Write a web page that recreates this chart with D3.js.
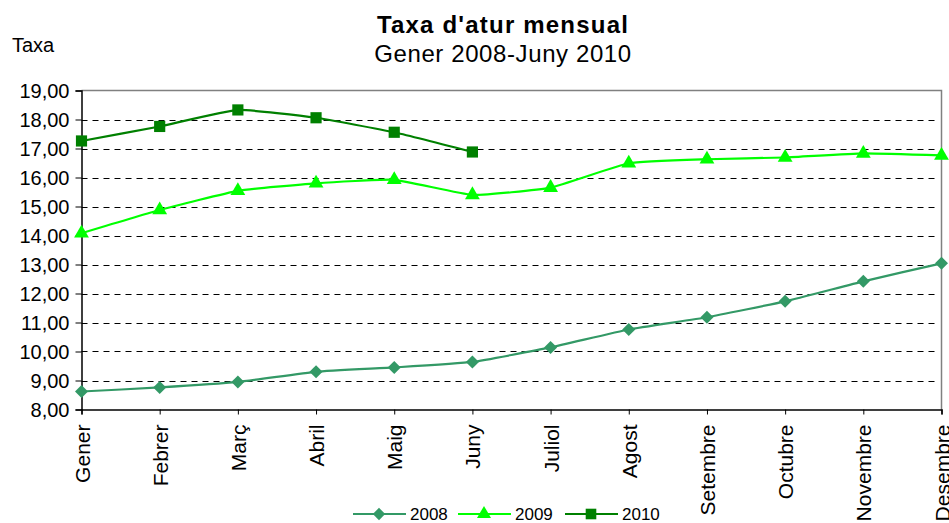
<!DOCTYPE html>
<html>
<head>
<meta charset="utf-8">
<script src="https://cdn.jsdelivr.net/npm/d3@7"></script>
<style>
    body { margin: 0; background: #fff; }
    text { font-family: "Liberation Sans", Arial, sans-serif; fill: #000; }
</style>
</head>
<body>
<div id="chart"></div>
<script>
// mesos i valors de la taxa d'atur
const months = ["Gener", "Febrer", "Març", "Abril", "Maig", "Juny", "Juliol",
    "Agost", "Setembre", "Octubre", "Novembre", "Desembre"];
const taxa2008 = [8.62, 8.76, 8.95, 9.30, 9.45, 9.64, 10.14, 10.76, 11.18, 11.73, 12.42, 13.04];
const taxa2009 = [14.08, 14.88, 15.54, 15.80, 15.92, 15.40, 15.65, 16.49, 16.63, 16.69, 16.83, 16.76];
const taxa2010 = [17.26, 17.76, 18.33, 18.06, 17.56, 16.88];
const yTicks = [8, 9, 10, 11, 12, 13, 14, 15, 16, 17, 18, 19];

function init() {
    const w = 949;
    const h = 523;
    const left = 81.5, right = 941.5, top = 90.5, bottom = 409.5;

    const svg = d3.select("#chart")
        .append("svg")
        .attr("width", w)
        .attr("height", h);

    const x = d3.scalePoint().domain(months).range([left, right]);
    const y = d3.scaleLinear().domain([8, 19]).range([bottom, top]);

    // titol
    svg.append("text")
        .attr("x", 503)
        .attr("y", 33)
        .attr("text-anchor", "middle")
        .style("font-size", "24px")
        .style("font-weight", "bold")
        .style("letter-spacing", "1.2px")
        .text("Taxa d'atur mensual");
    svg.append("text")
        .attr("x", 503)
        .attr("y", 62)
        .attr("text-anchor", "middle")
        .style("font-size", "24px")
        .style("letter-spacing", "0.6px")
        .text("Gener 2008-Juny 2010");
    svg.append("text")
        .attr("x", 12)
        .attr("y", 52)
        .style("font-size", "20px")
        .text("Taxa");

    // graella discontinua
    svg.append("g")
        .selectAll("line")
        .data(yTicks.filter(d => d > 8 && d < 19))
        .enter()
        .append("line")
        .attr("x1", left)
        .attr("x2", right - 6)
        .attr("y1", d => Math.round(y(d)) + 0.5)
        .attr("y2", d => Math.round(y(d)) + 0.5)
        .attr("stroke", "#000")
        .attr("stroke-width", 1)
        .attr("stroke-dasharray", "6,5");

    // marc superior i dret
    svg.append("path")
        .attr("d", `M${left},${top}H${right}V${bottom}`)
        .attr("fill", "none")
        .attr("stroke", "#808080")
        .attr("stroke-width", 1.5);

    // eix y
    const yAxis = d3.axisLeft(y)
        .tickValues(yTicks)
        .tickSize(6)
        .tickPadding(6)
        .tickFormat(d => d3.format(".2f")(d).replace(".", ","));
    const gy = svg.append("g")
        .attr("transform", `translate(${left},0)`)
        .call(yAxis);
    gy.select(".domain").attr("stroke", "#000").attr("stroke-width", 1.5);
    gy.selectAll("line").attr("stroke", "#000");
    gy.selectAll("text")
        .style("font-size", "20px")
        .attr("dy", "0.36em")
        .style("font-family", "'Liberation Sans', Arial, sans-serif");

    // eix x
    const xAxis = d3.axisBottom(x).tickSize(5).tickPadding(0);
    const gx = svg.append("g")
        .attr("transform", `translate(0,${bottom})`)
        .call(xAxis);
    gx.select(".domain").attr("stroke", "#000").attr("stroke-width", 1.5);
    gx.selectAll("line").attr("stroke", "#000");
    gx.selectAll("text")
        .style("font-size", "21px")
        .style("font-family", "'Liberation Sans', Arial, sans-serif")
        .attr("text-anchor", "end")
        .attr("transform", "translate(0,15) rotate(-90)")
        .attr("x", 0)
        .attr("y", 0)
        .attr("dy", "0.36em");

    const series = [
        { name: "2008", values: taxa2008, color: "#339966", symbol: d3.symbolSquare, size: 85, rot: 45 },
        { name: "2009", values: taxa2009, color: "#00ff00", symbol: d3.symbolTriangle, size: 95, rot: 0 },
        { name: "2010", values: taxa2010, color: "#008000", symbol: d3.symbolSquare, size: 125, rot: 0 }
    ];

    const line = d3.line()
        .x((d, i) => x(months[i]))
        .y(d => y(d))
        .curve(d3.curveCardinal.tension(0.6));

    series.forEach(function (s) {
        svg.append("path")
            .datum(s.values)
            .attr("d", line)
            .attr("fill", "none")
            .attr("stroke", s.color)
            .attr("stroke-width", 2.2);

        svg.append("g")
            .selectAll("path")
            .data(s.values)
            .enter()
            .append("path")
            .attr("d", d3.symbol().type(s.symbol).size(s.size))
            .attr("transform", (d, i) => `translate(${x(months[i])},${y(d)}) rotate(${s.rot})`)
            .attr("fill", s.color);
    });

    // llegenda
    const legendX = [353, 458, 565];
    const legend = svg.append("g")
        .selectAll("g")
        .data(series)
        .enter()
        .append("g")
        .attr("transform", (d, i) => `translate(${legendX[i]},514)`);
    legend.append("line")
        .attr("x1", 0)
        .attr("x2", 53)
        .attr("stroke", d => d.color)
        .attr("stroke-width", 2.2);
    legend.append("path")
        .attr("d", d => d3.symbol().type(d.symbol).size(d.size * 0.9)())
        .attr("transform", d => `translate(26,0) rotate(${d.rot})`)
        .attr("fill", d => d.color);
    legend.append("text")
        .attr("x", 57)
        .attr("dy", "0.36em")
        .style("font-size", "17px")
        .text(d => d.name);
}

window.addEventListener('load', init);
</script>
</body>
</html>
